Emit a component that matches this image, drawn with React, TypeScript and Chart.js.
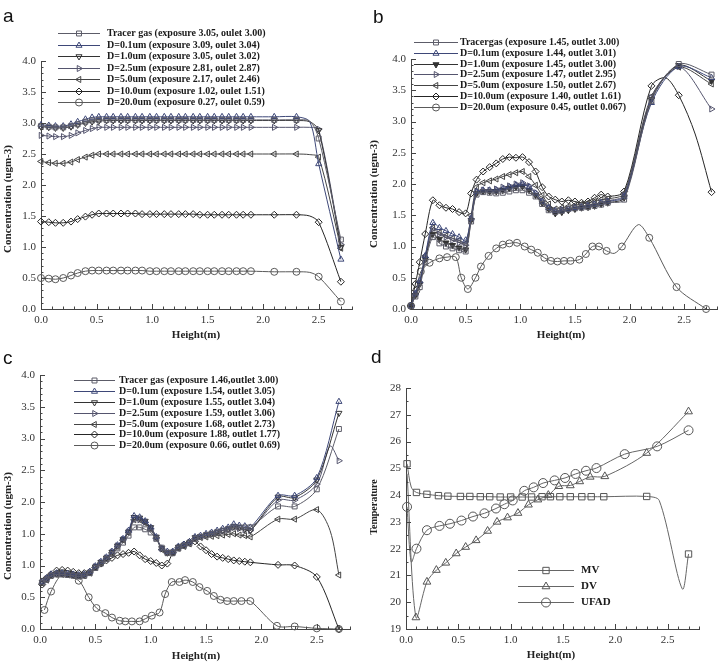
import React, { useEffect, useRef } from 'react';
import { Chart, registerables } from 'chart.js';
import { drawPoint } from 'chart.js/helpers';

Chart.register(...registerables);

// ---------------- Panel a ----------------
const A_X = [0.0, 0.07, 0.13, 0.2, 0.27, 0.33, 0.4, 0.46, 0.52, 0.59, 0.65, 0.72, 0.78, 0.85, 0.91, 0.98, 1.04, 1.11, 1.17, 1.24, 1.3, 1.37, 1.43, 1.5, 1.56, 1.63, 1.69, 1.76, 1.82, 1.89, 2.1, 2.3, 2.42, 2.5, 2.7];
const A_KNOT = [2.42];
const A_TRACER = [2.95, 2.94, 2.93, 2.93, 2.95, 2.98, 3.02, 3.04, 3.05, 3.05, 3.05, 3.05, 3.05, 3.05, 3.05, 3.05, 3.05, 3.05, 3.05, 3.05, 3.05, 3.05, 3.05, 3.05, 3.05, 3.05, 3.05, 3.05, 3.05, 3.05, 3.05, 3.05, 3.03, 2.75, 1.12];
const A_D0P1 = [2.97, 2.96, 2.95, 2.95, 2.98, 3.02, 3.06, 3.09, 3.1, 3.1, 3.1, 3.1, 3.1, 3.1, 3.1, 3.1, 3.1, 3.1, 3.1, 3.1, 3.1, 3.1, 3.1, 3.1, 3.1, 3.1, 3.1, 3.1, 3.1, 3.1, 3.1, 3.1, 3.02, 2.34, 0.8];
const A_D1P0 = [2.94, 2.93, 2.92, 2.92, 2.94, 2.97, 3.0, 3.02, 3.03, 3.04, 3.04, 3.04, 3.04, 3.04, 3.04, 3.04, 3.04, 3.04, 3.04, 3.04, 3.04, 3.04, 3.04, 3.04, 3.04, 3.04, 3.04, 3.04, 3.04, 3.04, 3.04, 3.04, 3.02, 2.88, 1.0];
const A_D2P5 = [2.8, 2.79, 2.78, 2.78, 2.8, 2.84, 2.88, 2.91, 2.93, 2.93, 2.93, 2.93, 2.93, 2.93, 2.93, 2.93, 2.93, 2.93, 2.93, 2.93, 2.93, 2.93, 2.93, 2.93, 2.93, 2.93, 2.93, 2.93, 2.93, 2.93, 2.93, 2.93, 2.93, 2.9, 1.04];
const A_D5P0 = [2.38, 2.36, 2.35, 2.35, 2.37, 2.41, 2.45, 2.48, 2.5, 2.5, 2.5, 2.5, 2.5, 2.5, 2.5, 2.5, 2.5, 2.5, 2.5, 2.5, 2.5, 2.5, 2.5, 2.5, 2.5, 2.5, 2.5, 2.5, 2.5, 2.5, 2.5, 2.5, 2.49, 2.45, 0.98];
const A_D10P0 = [1.41, 1.4, 1.39, 1.39, 1.41, 1.45, 1.49, 1.52, 1.54, 1.54, 1.54, 1.54, 1.54, 1.54, 1.53, 1.53, 1.53, 1.53, 1.53, 1.53, 1.53, 1.53, 1.52, 1.52, 1.52, 1.52, 1.52, 1.52, 1.52, 1.52, 1.52, 1.52, 1.5, 1.4, 0.44];
const A_D20P0 = [0.5, 0.49, 0.48, 0.5, 0.54, 0.58, 0.61, 0.62, 0.62, 0.62, 0.62, 0.62, 0.62, 0.62, 0.62, 0.61, 0.61, 0.61, 0.61, 0.61, 0.61, 0.61, 0.61, 0.61, 0.61, 0.61, 0.61, 0.61, 0.61, 0.61, 0.6, 0.6, 0.59, 0.52, 0.12];
const A_LABELS = [
  'Tracer gas (exposure 3.05, oulet 3.00)',
  'D=0.1um (exposure 3.09, oulet 3.04)',
  'D=1.0um (exposure 3.05, oulet 3.02)',
  'D=2.5um (exposure 2.81, oulet 2.87)',
  'D=5.0um (exposure 2.17, oulet 2.46)',
  'D=10.0um (exposure 1.02, oulet 1.51)',
  'D=20.0um (exposure 0.27, oulet 0.59)',
];

// ---------------- Panel b ----------------
const B_X = [0.0, 0.04, 0.08, 0.13, 0.2, 0.26, 0.32, 0.38, 0.44, 0.5, 0.55, 0.6, 0.66, 0.72, 0.78, 0.84, 0.9, 0.96, 1.02, 1.08, 1.14, 1.2, 1.26, 1.32, 1.38, 1.44, 1.5, 1.56, 1.62, 1.68, 1.74, 1.8, 1.95, 2.2, 2.45, 2.75];
const B_TRACER = [0.05, 0.2, 0.35, 0.75, 1.15, 1.05, 1.0, 0.97, 0.94, 0.92, 1.4, 1.83, 1.87, 1.86, 1.85, 1.86, 1.88, 1.9, 1.9, 1.86, 1.8, 1.68, 1.58, 1.55, 1.57, 1.6, 1.61, 1.62, 1.63, 1.65, 1.67, 1.7, 1.75, 3.33, 3.92, 3.75];
const B_D0P1 = [0.05, 0.25, 0.45, 0.85, 1.38, 1.3, 1.25, 1.2, 1.15, 1.1, 1.45, 1.88, 1.9, 1.9, 1.9, 1.92, 1.95, 1.98, 2.0, 1.95, 1.85, 1.72, 1.62, 1.57, 1.58, 1.6, 1.62, 1.63, 1.65, 1.67, 1.7, 1.72, 1.8, 3.3, 3.88, 3.7];
const B_D1P0 = [0.05, 0.22, 0.4, 0.8, 1.2, 1.12, 1.06, 1.02, 0.98, 0.95, 1.42, 1.85, 1.88, 1.88, 1.88, 1.9, 1.93, 1.95, 1.96, 1.9, 1.82, 1.7, 1.6, 1.53, 1.55, 1.58, 1.6, 1.62, 1.63, 1.65, 1.68, 1.7, 1.78, 3.35, 3.9, 3.65];
const B_D2P5 = [0.05, 0.24, 0.42, 0.82, 1.28, 1.2, 1.15, 1.1, 1.06, 1.02, 1.44, 1.87, 1.9, 1.9, 1.92, 1.95, 1.97, 2.0, 2.02, 1.97, 1.86, 1.73, 1.62, 1.56, 1.58, 1.6, 1.62, 1.64, 1.66, 1.68, 1.7, 1.73, 1.82, 3.38, 3.88, 3.2];
const B_D5P0 = [0.05, 0.24, 0.43, 0.85, 1.3, 1.22, 1.17, 1.13, 1.1, 1.05, 1.5, 1.95, 2.02, 2.05, 2.08, 2.12, 2.15, 2.18, 2.2, 2.12, 1.98, 1.82, 1.68, 1.6, 1.62, 1.64, 1.66, 1.68, 1.7, 1.72, 1.75, 1.76, 1.85, 3.4, 3.87, 3.6];
const B_X10 = [0.0, 0.04, 0.08, 0.13, 0.2, 0.26, 0.32, 0.38, 0.44, 0.5, 0.55, 0.6, 0.66, 0.72, 0.78, 0.84, 0.9, 0.96, 1.02, 1.08, 1.14, 1.2, 1.26, 1.32, 1.38, 1.44, 1.5, 1.56, 1.62, 1.68, 1.74, 1.8, 1.95, 2.2, 2.33, 2.45, 2.6, 2.75];
const B_D10P0 = [0.05, 0.4, 0.75, 1.2, 1.74, 1.66, 1.62, 1.6, 1.55, 1.53, 1.85, 2.07, 2.2, 2.27, 2.33, 2.4, 2.43, 2.42, 2.43, 2.35, 2.2, 1.95, 1.8, 1.75, 1.72, 1.74, 1.72, 1.7, 1.72, 1.78, 1.83, 1.8, 1.88, 3.57, 3.7, 3.42, 2.8, 1.87];
const B_D10P0_PLAIN = [2.33, 2.6];
const B_X20 = [0.0, 0.05, 0.09, 0.17, 0.26, 0.33, 0.41, 0.46, 0.52, 0.59, 0.64, 0.71, 0.78, 0.84, 0.9, 0.97, 1.04, 1.1, 1.16, 1.22, 1.28, 1.34, 1.4, 1.46, 1.54, 1.6, 1.66, 1.72, 1.79, 1.86, 1.93, 2.08, 2.18, 2.43, 2.7];
const B_D20P0 = [0.05, 0.3, 0.6, 0.74, 0.81, 0.83, 0.83, 0.5, 0.32, 0.5, 0.68, 0.85, 0.97, 1.03, 1.05, 1.06, 1.0, 0.95, 0.9, 0.82, 0.77, 0.76, 0.77, 0.77, 0.79, 0.88, 1.0, 1.0, 0.93, 0.89, 1.0, 1.35, 1.14, 0.35, 0.0];
const B_D20P0_PLAIN = [1.86, 2.08];
const B_LABELS = [
  'Tracergas (exposure 1.45, outlet 3.00)',
  'D=0.1um (exposure 1.44, outlet 3.01)',
  'D=1.0um (exposure 1.45, outlet 3.00)',
  'D=2.5um (exposure 1.47, outlet 2.95)',
  'D=5.0um (exposure 1.50, outlet 2.67)',
  'D=10.0um (exposure 1.40, outlet 1.61)',
  'D=20.0um (exposure 0.45, outlet 0.067)',
];

// ---------------- Panel c ----------------
const C_X = [0.02, 0.06, 0.1, 0.15, 0.2, 0.25, 0.3, 0.35, 0.4, 0.45, 0.5, 0.55, 0.6, 0.65, 0.7, 0.75, 0.8, 0.85, 0.9, 0.95, 1.0, 1.05, 1.1, 1.15, 1.2, 1.25, 1.3, 1.35, 1.4, 1.45, 1.5, 1.55, 1.6, 1.65, 1.7, 1.75, 1.8, 1.85, 1.9, 2.15, 2.3, 2.5, 2.7];
const C_X2 = [0.02, 0.06, 0.1, 0.15, 0.2, 0.25, 0.3, 0.35, 0.4, 0.45, 0.5, 0.55, 0.6, 0.65, 0.7, 0.75, 0.8, 0.85, 0.9, 0.95, 1.0, 1.05, 1.1, 1.15, 1.2, 1.25, 1.3, 1.35, 1.4, 1.45, 1.5, 1.55, 1.6, 1.65, 1.7, 1.75, 1.8, 1.85, 1.9, 2.15, 2.3, 2.5, 2.62, 2.7];
const C_TRACER = [0.73, 0.78, 0.84, 0.86, 0.86, 0.85, 0.84, 0.83, 0.84, 0.88, 0.96, 1.03, 1.1, 1.18, 1.27, 1.36, 1.47, 1.6, 1.6, 1.57, 1.52, 1.42, 1.28, 1.2, 1.2, 1.27, 1.31, 1.35, 1.42, 1.45, 1.48, 1.5, 1.52, 1.55, 1.57, 1.6, 1.6, 1.6, 1.6, 1.93, 1.93, 2.2, 3.15];
const C_D0P1 = [0.75, 0.8, 0.86, 0.88, 0.88, 0.87, 0.86, 0.85, 0.86, 0.9, 0.99, 1.06, 1.13, 1.22, 1.32, 1.42, 1.55, 1.78, 1.76, 1.7, 1.6, 1.45, 1.27, 1.22, 1.22, 1.3, 1.33, 1.37, 1.45, 1.47, 1.5, 1.52, 1.55, 1.58, 1.6, 1.65, 1.63, 1.62, 1.6, 2.1, 2.1, 2.38, 3.58];
const C_D1P0 = [0.74, 0.79, 0.85, 0.87, 0.87, 0.86, 0.85, 0.84, 0.85, 0.89, 0.98, 1.05, 1.12, 1.21, 1.31, 1.41, 1.53, 1.76, 1.75, 1.7, 1.6, 1.45, 1.27, 1.2, 1.21, 1.29, 1.32, 1.36, 1.44, 1.46, 1.48, 1.5, 1.53, 1.55, 1.58, 1.62, 1.6, 1.57, 1.55, 2.08, 2.07, 2.35, 3.4];
const C_D2P5 = [0.74, 0.79, 0.85, 0.87, 0.87, 0.86, 0.85, 0.84, 0.85, 0.89, 0.98, 1.05, 1.12, 1.21, 1.31, 1.41, 1.53, 1.72, 1.72, 1.68, 1.58, 1.44, 1.26, 1.2, 1.21, 1.28, 1.32, 1.36, 1.43, 1.45, 1.47, 1.5, 1.52, 1.55, 1.57, 1.6, 1.58, 1.56, 1.55, 2.03, 2.03, 2.28, 2.88, 2.65];
const C_D5P0 = [0.72, 0.77, 0.84, 0.86, 0.86, 0.85, 0.84, 0.83, 0.84, 0.88, 0.97, 1.04, 1.11, 1.2, 1.3, 1.4, 1.52, 1.72, 1.72, 1.67, 1.57, 1.43, 1.25, 1.2, 1.2, 1.27, 1.3, 1.34, 1.42, 1.44, 1.45, 1.46, 1.47, 1.48, 1.49, 1.5, 1.48, 1.47, 1.45, 1.73, 1.73, 1.88, 1.55, 0.85];
const C_KNOT = [2.62];
const C_D10P0 = [0.7, 0.8, 0.86, 0.92, 0.93, 0.92, 0.9, 0.88, 0.88, 0.9, 0.97, 1.03, 1.08, 1.12, 1.16, 1.18, 1.2, 1.22, 1.16, 1.1, 1.07, 1.04, 1.0, 1.03, 1.2, 1.28, 1.33, 1.37, 1.38, 1.3, 1.24, 1.18, 1.14, 1.12, 1.1, 1.08, 1.07, 1.06, 1.05, 1.01, 1.0, 0.82, 0.0];
const C_X20 = [0.04, 0.1, 0.2, 0.35, 0.44, 0.51, 0.59, 0.65, 0.72, 0.77, 0.83, 0.9, 0.95, 1.01, 1.08, 1.13, 1.19, 1.26, 1.31, 1.38, 1.44, 1.51, 1.57, 1.63, 1.69, 1.75, 1.82, 1.9, 2.14, 2.3, 2.5, 2.7];
const C_D20P0 = [0.3, 0.59, 0.85, 0.76, 0.5, 0.33, 0.25, 0.18, 0.13, 0.12, 0.12, 0.12, 0.16, 0.21, 0.26, 0.55, 0.74, 0.74, 0.77, 0.74, 0.66, 0.6, 0.52, 0.46, 0.44, 0.44, 0.44, 0.44, 0.05, 0.04, 0.01, 0.0];
const C_D20P0_PLAIN = [0.2];
const C_YLABELS = ['0.0', '0.5', '1.0', '1.0', '2.0', '2.5', '3.0', '3.5', '4.0'];
const C_LABELS = [
  'Tracer gas (exposure 1.46,outlet 3.00)',
  'D=0.1um (exposure 1.54, outlet 3.05)',
  'D=1.0um (exposure 1.55, outlet 3.04)',
  'D=2.5um (exposure 1.59, outlet 3.06)',
  'D=5.0um (exposure 1.68, outlet 2.73)',
  'D=10.0um (exposure 1.88, outlet 1.77)',
  'D=20.0um (exposure 0.66, outlet 0.69)',
];

// ---------------- Panel d ----------------
const D_MV_X = [0.01, 0.05, 0.1, 0.2, 0.31, 0.4, 0.52, 0.61, 0.71, 0.8, 0.9, 1.0, 1.11, 1.2, 1.3, 1.38, 1.47, 1.57, 1.68, 1.77, 1.89, 2.3, 2.42, 2.64, 2.7];
const D_MV = [25.17, 24.3, 24.1, 24.03, 23.98, 23.96, 23.95, 23.95, 23.94, 23.94, 23.93, 23.93, 23.93, 23.93, 23.94, 23.94, 23.94, 23.94, 23.94, 23.94, 23.94, 23.95, 23.8, 20.5, 21.8];
const D_MV_PLAIN = [0.05, 2.42, 2.64];
const D_DV_X = [0.01, 0.095, 0.2, 0.29, 0.38, 0.48, 0.57, 0.67, 0.78, 0.87, 0.97, 1.07, 1.17, 1.26, 1.36, 1.46, 1.57, 1.66, 1.76, 1.9, 2.3, 2.7];
const D_DV = [24.8, 19.43, 20.76, 21.2, 21.47, 21.82, 22.06, 22.31, 22.66, 23.0, 23.16, 23.33, 23.64, 23.83, 24.0, 24.33, 24.36, 24.51, 24.68, 24.7, 25.57, 27.12];
const D_DV_PLAIN = [0.01];
const D_UF_X = [0.01, 0.05, 0.1, 0.2, 0.32, 0.42, 0.53, 0.64, 0.75, 0.86, 0.94, 1.02, 1.13, 1.22, 1.31, 1.42, 1.52, 1.62, 1.72, 1.82, 2.09, 2.4, 2.7];
const D_UF = [23.56, 21.5, 22.0, 22.69, 22.85, 22.93, 23.05, 23.2, 23.32, 23.5, 23.66, 23.8, 24.16, 24.29, 24.45, 24.55, 24.64, 24.79, 24.91, 25.01, 25.53, 25.82, 26.42];
const D_UF_PLAIN = [0.05];
const D_LABELS = ['MV', 'DV', 'UFAD'];

// ---------------- styles ----------------
const SEVEN = [
  { ps: 'rect', rot: 0, color: '#5c5c68', fill: false },
  { ps: 'triangle', rot: 0, color: '#3e4878', fill: false },
  { ps: 'triangle', rot: 180, color: '#333333', fill: false },
  { ps: 'triangle', rot: 90, color: '#55556e', fill: false },
  { ps: 'triangle', rot: 270, color: '#444444', fill: false },
  { ps: 'rectRot', rot: 0, color: '#262626', fill: false },
  { ps: 'circle', rot: 0, color: '#5a5a5a', fill: false },
];
const THREE = [
  { ps: 'rect', rot: 0, color: '#555555', fill: false },
  { ps: 'triangle', rot: 0, color: '#555555', fill: false },
  { ps: 'circle', rot: 0, color: '#555555', fill: false },
];

const SERIF = '"Liberation Serif", "Times New Roman", serif';

function makeDataset(label: string, xs: number[], ys: number[], plain: number[], st: any, r: number, lineColor?: string) {
  return {
    label,
    data: xs.map((x, i) => ({ x, y: ys[i] })),
    borderColor: lineColor || st.color,
    borderWidth: 1,
    pointStyle: st.ps,
    pointRotation: st.rot,
    pointRadius: (ctx: any) => (plain.includes(xs[ctx.dataIndex]) ? 0 : r),
    pointBorderColor: st.color,
    pointBackgroundColor: st.fill ? st.color : 'rgba(255,255,255,0)',
    pointBorderWidth: 1,
    tension: 0.3,
    clip: false,
    fill: false,
  };
}

const innerTicks = {
  id: 'innerTicks',
  afterDraw(chart: any, _a: any, o: any) {
    const { ctx, chartArea } = chart;
    const x = chart.scales.x;
    const y = chart.scales.y;
    ctx.save();
    ctx.strokeStyle = '#444';
    ctx.lineWidth = 1;
    ctx.beginPath();
    const nxm = Math.round((x.max - x.min) / o.xMinor);
    for (let i = 0; i <= nxm; i++) {
      const v = x.min + i * o.xMinor;
      const major = Math.abs(v / o.xMajor - Math.round(v / o.xMajor)) < 1e-6;
      const px = Math.round(x.getPixelForValue(v)) + 0.5;
      ctx.moveTo(px, chartArea.bottom);
      ctx.lineTo(px, chartArea.bottom - (major ? 5 : 2.5));
    }
    const nym = Math.round((y.max - y.min) / o.yMinor);
    for (let i = 0; i <= nym; i++) {
      const v = y.min + i * o.yMinor;
      const major = Math.abs(v / o.yMajor - Math.round(v / o.yMajor)) < 1e-6;
      const py = Math.round(y.getPixelForValue(v)) + 0.5;
      ctx.moveTo(chartArea.left, py);
      ctx.lineTo(chartArea.left + (major ? 5 : 2.5), py);
    }
    ctx.stroke();
    ctx.restore();
  },
};

const decor = {
  id: 'decor',
  afterDraw(chart: any, _a: any, o: any) {
    const ctx = chart.ctx;
    ctx.save();
    ctx.fillStyle = '#111';
    ctx.textAlign = 'left';
    ctx.textBaseline = 'alphabetic';
    ctx.font = '19px "Liberation Sans", Arial, sans-serif';
    ctx.fillText(o.letter, o.lx, o.ly);
    // axis titles
    ctx.font = 'bold 11px ' + SERIF;
    ctx.fillStyle = '#222';
    ctx.textAlign = 'center';
    ctx.textBaseline = 'middle';
    ctx.fillText(o.xTitle, o.xtX, o.xtY);
    ctx.save();
    ctx.font = 'bold ' + o.ytSize + 'px ' + SERIF;
    ctx.translate(o.ytX, o.ytY);
    ctx.rotate(-Math.PI / 2);
    ctx.fillText(o.yTitle, 0, 0);
    ctx.restore();
    // legend
    const L = o.legend;
    chart.data.datasets.forEach((d: any, i: number) => {
      const yy = L.y0 + i * L.dy;
      ctx.strokeStyle = d.borderColor;
      ctx.lineWidth = 1;
      ctx.beginPath();
      ctx.moveTo(L.x1, Math.round(yy) + 0.5);
      ctx.lineTo(L.x2, Math.round(yy) + 0.5);
      ctx.stroke();
      ctx.strokeStyle = d.pointBorderColor;
      ctx.fillStyle = d.pointBackgroundColor;
      drawPoint(ctx, { pointStyle: d.pointStyle, rotation: d.pointRotation, radius: L.r, borderWidth: 1 } as any, (L.x1 + L.x2) / 2, Math.round(yy) + 0.5);
      ctx.fillStyle = '#1a1a1a';
      ctx.font = L.font;
      ctx.textAlign = 'left';
      ctx.textBaseline = 'middle';
      ctx.fillText(d.label, L.tx, yy + 0.5);
    });
    ctx.restore();
  },
};

function makeConfig(p: any) {
  return {
    type: 'line',
    data: { datasets: p.datasets },
    plugins: [innerTicks, decor],
    options: {
      responsive: false,
      animation: false,
      events: [],
      layout: { padding: p.pad },
      plugins: {
        legend: { display: false },
        title: { display: false },
        tooltip: { enabled: false },
        innerTicks: p.ticks,
        decor: p.decor,
      },
      scales: {
        x: {
          type: 'linear',
          min: 0,
          max: 2.8,
          afterFit: (s: any) => { s.height = p.xHeight; },
          grid: { display: false, drawTicks: false },
          border: { display: true, color: '#444', width: 1 },
          ticks: {
            stepSize: 0.5,
            includeBounds: false,
            autoSkip: false,
            maxRotation: 0,
            padding: 5,
            color: '#333',
            font: { family: SERIF, size: 11 },
            callback: (v: any) => Number(v).toFixed(1),
          },
        },
        y: {
          type: 'linear',
          min: p.yMin,
          max: p.yMax,
          afterFit: (s: any) => { s.width = p.yWidth; },
          grid: { display: false, drawTicks: false },
          border: { display: true, color: '#444', width: 1 },
          ticks: {
            stepSize: p.yStep,
            includeBounds: false,
            autoSkip: false,
            padding: 5,
            color: '#333',
            font: { family: SERIF, size: 11 },
            callback: p.yCallback,
          },
        },
      },
    },
  };
}

function sevenSets(labels: string[], list: [number[], number[], number[]][], fillIdx: number) {
  return list.map((s, i) => {
    const st = { ...SEVEN[i], fill: i === fillIdx };
    return makeDataset(labels[i], s[0], s[1], s[2], st, 3.5);
  });
}

const LEG_FONT = 'bold 10px ' + SERIF;

const PANELS = [
  {
    key: 'a', left: 0, top: 0, w: 361, h: 345,
    cfg: () => makeConfig({
      datasets: sevenSets(A_LABELS, [
        [A_X, A_TRACER, A_KNOT], [A_X, A_D0P1, A_KNOT], [A_X, A_D1P0, A_KNOT], [A_X, A_D2P5, A_KNOT],
        [A_X, A_D5P0, A_KNOT], [A_X, A_D10P0, A_KNOT], [A_X, A_D20P0, A_KNOT],
      ], -1),
      pad: { top: 61, right: 9, left: 0, bottom: 0 },
      xHeight: 36, yWidth: 41, yMin: 0, yMax: 4, yStep: 0.5,
      yCallback: (v: any) => Number(v).toFixed(1),
      ticks: { xMajor: 0.5, xMinor: 0.1, yMajor: 0.5, yMinor: 0.1 },
      decor: {
        letter: 'a', lx: 3, ly: 22,
        xTitle: 'Height(m)', xtX: 196, xtY: 335,
        yTitle: 'Concentration (ugm-3)', ytX: 8, ytY: 199, ytSize: 11,
        legend: { x1: 58, x2: 100, tx: 107, y0: 33.3, dy: 11.5, r: 3.5, font: LEG_FONT },
      },
    }),
  },
  {
    key: 'b', left: 361, top: 0, w: 361, h: 345,
    cfg: () => makeConfig({
      datasets: sevenSets(B_LABELS, [
        [B_X, B_TRACER, []], [B_X, B_D0P1, []], [B_X, B_D1P0, []], [B_X, B_D2P5, []],
        [B_X, B_D5P0, []], [B_X10, B_D10P0, B_D10P0_PLAIN], [B_X20, B_D20P0, B_D20P0_PLAIN],
      ], 2),
      pad: { top: 59, right: 4, left: 0, bottom: 0 },
      xHeight: 36, yWidth: 50, yMin: 0, yMax: 4, yStep: 0.5,
      yCallback: (v: any) => Number(v).toFixed(1),
      ticks: { xMajor: 0.5, xMinor: 0.1, yMajor: 0.5, yMinor: 0.1 },
      decor: {
        letter: 'b', lx: 12, ly: 23,
        xTitle: 'Height(m)', xtX: 200, xtY: 335,
        yTitle: 'Concentration (ugm-3)', ytX: 13.3, ytY: 194, ytSize: 11,
        legend: { x1: 53, x2: 97, tx: 99, y0: 42, dy: 10.8, r: 3.5, font: LEG_FONT },
      },
    }),
  },
  {
    key: 'c', left: 0, top: 331, w: 361, h: 331,
    cfg: () => makeConfig({
      datasets: sevenSets(C_LABELS, [
        [C_X, C_TRACER, []], [C_X, C_D0P1, []], [C_X, C_D1P0, []], [C_X2, C_D2P5, C_KNOT],
        [C_X2, C_D5P0, C_KNOT], [C_X, C_D10P0, []], [C_X20, C_D20P0, C_D20P0_PLAIN],
      ], -1),
      pad: { top: 44, right: 11, left: 0, bottom: 0 },
      xHeight: 33, yWidth: 40, yMin: 0, yMax: 4, yStep: 0.5,
      yCallback: (_v: any, i: number) => C_YLABELS[i] ?? '',
      ticks: { xMajor: 0.5, xMinor: 0.1, yMajor: 0.5, yMinor: 0.1 },
      decor: {
        letter: 'c', lx: 3, ly: 33,
        xTitle: 'Height(m)', xtX: 196, xtY: 325,
        yTitle: 'Concentration (ugm-3)', ytX: 8, ytY: 195, ytSize: 11,
        legend: { x1: 74, x2: 115, tx: 119, y0: 49.3, dy: 10.8, r: 3.5, font: LEG_FONT },
      },
    }),
  },
  {
    key: 'd', left: 361, top: 331, w: 361, h: 331,
    cfg: () => makeConfig({
      datasets: [
        makeDataset(D_LABELS[0], D_MV_X, D_MV, D_MV_PLAIN, THREE[0], 4.5, '#666'),
        makeDataset(D_LABELS[1], D_DV_X, D_DV, D_DV_PLAIN, THREE[1], 4.5, '#666'),
        makeDataset(D_LABELS[2], D_UF_X, D_UF, D_UF_PLAIN, THREE[2], 4.5, '#666'),
      ],
      pad: { top: 57, right: 23, left: 0, bottom: 0 },
      xHeight: 33, yWidth: 45, yMin: 19, yMax: 28, yStep: 1,
      yCallback: (v: any) => String(v),
      ticks: { xMajor: 0.5, xMinor: 0.1, yMajor: 1, yMinor: 0.5 },
      decor: {
        letter: 'd', lx: 10, ly: 32,
        xTitle: 'Height(m)', xtX: 190, xtY: 324,
        yTitle: 'Temperature', ytX: 13.3, ytY: 176, ytSize: 10,
        legend: { x1: 157, x2: 213, tx: 220, y0: 239, dy: 16, r: 4.5, font: 'bold 11px ' + SERIF },
      },
    }),
  },
];

function Panel({ p }: { p: any }) {
  const ref = useRef<HTMLCanvasElement | null>(null);
  useEffect(() => {
    if (!ref.current) return;
    const chart = new Chart(ref.current, p.cfg() as any);
    return () => chart.destroy();
  }, []);
  return (
    <canvas
      ref={ref}
      width={p.w}
      height={p.h}
      style={{ position: 'absolute', left: p.left, top: p.top, width: p.w, height: p.h }}
    />
  );
}

export default function App() {
  return (
    <div style={{ position: 'fixed', left: 0, top: 0, width: 722, height: 662, background: '#fff', overflow: 'hidden' }}>
      {PANELS.map((p) => (
        <Panel key={p.key} p={p} />
      ))}
    </div>
  );
}
